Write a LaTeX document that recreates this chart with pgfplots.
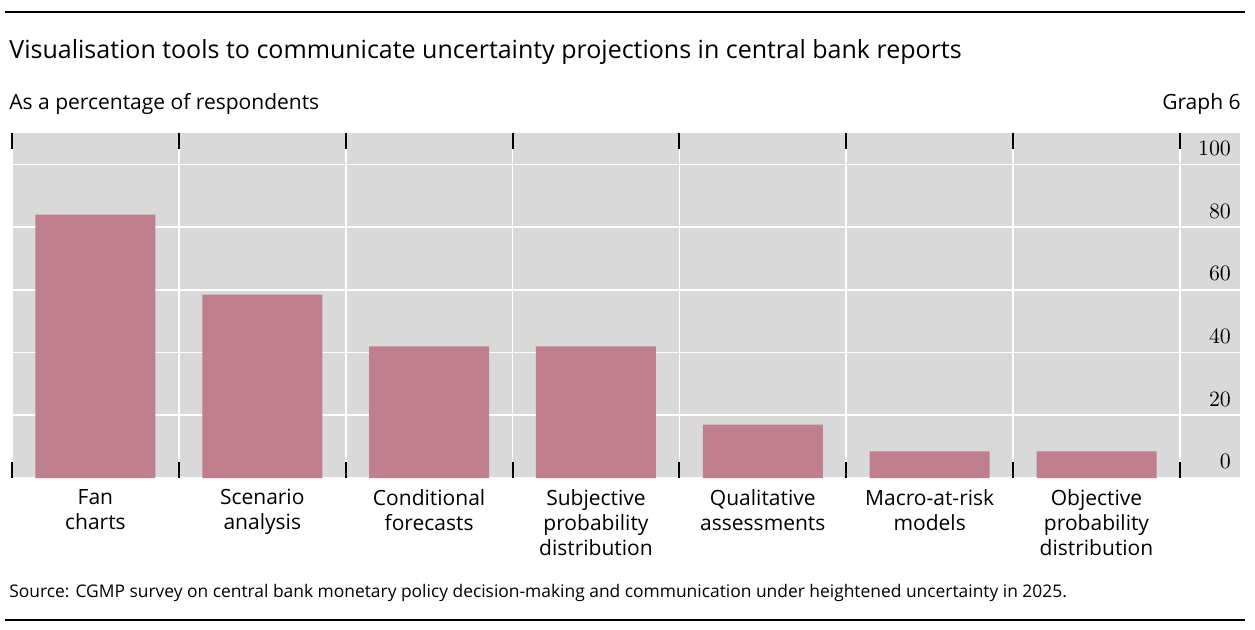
\documentclass[border=0pt]{standalone}
\usepackage{pgfplots}
\pgfplotsset{compat=1.18}
\usepackage{fontspec}
\setmainfont{Open Sans}
\definecolor{barc}{HTML}{BF7F8E}
\definecolor{bgc}{HTML}{D9D9D9}
\newcommand{\px}[2]{(#1*0.5pt,{(629-#2)*0.5pt})}
\begin{document}
\begin{tikzpicture}
\path[use as bounding box] (0,0) rectangle (627.5pt,314.5pt);
\draw[line width=1pt] \px{5}{12} -- \px{1245}{12};
\draw[line width=1pt] \px{5}{620} -- \px{1245}{620};
\node[anchor=base west,font=\fontsize{12.5}{14}\selectfont,inner sep=0] at \px{9}{58} {Visualisation tools to communicate uncertainty projections in central bank reports};
\node[anchor=base west,font=\fontsize{10.5}{12}\selectfont,inner sep=0] at \px{9}{109} {As a percentage of respondents};
\node[anchor=base east,font=\fontsize{10.5}{12}\selectfont,inner sep=0] at \px{1241}{109} {Graph 6};
\node[anchor=base west,font=\fontsize{8.7}{10}\selectfont,inner sep=0] at \px{9}{597} {Source: CGMP survey on central bank monetary policy decision-making and communication under heightened uncertainty in 2025.};
\begin{axis}[
  at={(6pt,75.5pt)}, anchor=south west,
  scale only axis, width=614pt, height=172.5pt,
  xmin=-0.5, xmax=6.86, ymin=0, ymax=110,
  axis background/.style={fill=bgc},
  axis line style={draw=none},
  ytick={0,20,40,60,80,100},
  yticklabel pos=right,
  yticklabel style={anchor=south east, xshift=-1pt, yshift=1pt, font=\fontsize{10.5}{12}\selectfont},
  ymajorgrids, major grid style={white, line width=0.8pt},
  major tick length=0pt,
  xtick={0,...,6},
  xticklabels={Fan\\charts, Scenario\\analysis, Conditional\\forecasts, Subjective\\probability\\distribution, Qualitative\\assessments, Macro-at-risk\\models, Objective\\probability\\distribution},
  xticklabel style={align=center, font=\fontsize{10.5}{12.5}\selectfont, yshift=-2pt},
  minor xtick={-0.5,0.5,...,6.5},
  xminorgrids, minor grid style={white, line width=0.8pt},
  minor tick length=8pt,
  minor tick style={black, line width=1pt},
  tick align=inside,
  ytick style={draw=none},
]
\addplot[ybar, bar width=60pt, fill=barc, draw=none] coordinates {(0,84) (1,58.5) (2,42) (3,42) (4,17) (5,8.5) (6,8.5)};
\end{axis}
\end{tikzpicture}
\end{document}
